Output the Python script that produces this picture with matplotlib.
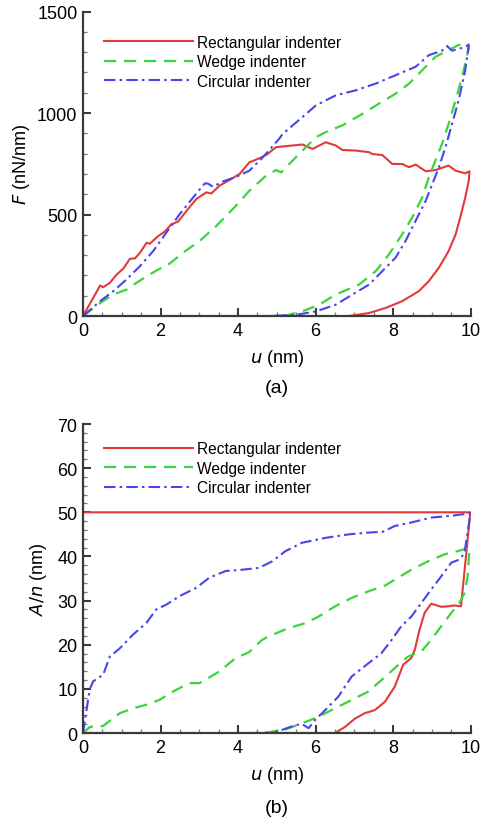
import matplotlib
matplotlib.use("Agg")
import matplotlib.pyplot as plt
from matplotlib.ticker import MultipleLocator

plt.rcParams['font.family'] = ['Liberation Sans', 'DejaVu Sans']

# ---------------- (a) force-displacement ----------------
rect_F_u = [0, 0.44, 0.52, 0.69, 0.87, 1.04, 1.21, 1.34, 1.47, 1.64, 1.72, 1.94, 2.11, 2.28,
            2.45, 2.67, 2.92, 3.18, 3.31, 3.52, 3.78, 4.04, 4.29, 4.55, 4.76, 4.98, 5.15, 5.66,
            5.92, 6.26, 6.52, 6.69, 7.04, 7.38, 7.46, 7.72, 7.98, 8.23, 8.41, 8.58, 8.84, 9.09,
            9.43, 9.61, 9.86, 9.97,
            9.95, 9.86, 9.73, 9.61, 9.43, 9.18, 8.92, 8.66, 8.23, 7.81, 7.38, 6.86]
rect_F = [0, 150, 142, 163, 205, 234, 282, 284, 312, 361, 356, 394, 416, 452,
          465, 518, 576, 609, 604, 642, 670, 700, 757, 777, 798, 832, 835, 845,
          823, 856, 840, 818, 815, 807, 798, 793, 749, 749, 733, 746, 713, 719,
          741, 716, 703, 713,
          667, 584, 485, 402, 320, 238, 172, 122, 73, 40, 15, 0]

wedge_F_u = [0, 0.44, 0.78, 1.12, 1.47, 1.89, 2.24, 2.58, 3.01, 3.44, 3.86, 4.29, 4.72, 4.98,
             5.11, 5.32, 5.66, 6.01, 6.26, 6.69, 7.21, 7.63, 8.06, 8.41, 8.75, 9.09, 9.43,
             9.69, 9.93,
             9.95, 9.78, 9.61, 9.43, 9.26, 9.09, 8.92, 8.75, 8.49, 8.23, 7.89, 7.55, 7.12,
             6.52, 6.09, 5.66, 5.24, 4.85]
wedge_F = [0, 64, 106, 130, 175, 224, 259, 312, 370, 444, 526, 617, 691, 719,
           708, 749, 815, 881, 906, 939, 996, 1046, 1095, 1145, 1211, 1277, 1310,
           1335, 1343,
           1320, 1178, 1063, 947, 848, 766, 683, 584, 485, 402, 303, 221, 155,
           106, 56, 23, 3, 0]

circ_F_u = [0, 0.44, 0.78, 1.12, 1.47, 1.81, 2.15, 2.49, 2.84, 3.14, 3.22, 3.35, 3.61, 3.95,
            4.29, 4.64, 5.06, 5.15, 5.66, 6.01, 6.52, 7.04, 7.55, 8.06, 8.58, 8.92, 9.26,
            9.39, 9.52, 9.73, 9.95,
            9.86, 9.69, 9.52, 9.35, 9.18, 9.01, 8.84, 8.58, 8.32, 8.06, 7.72, 7.38, 6.95,
            6.52, 6.01, 5.49, 4.8]
circ_F = [0, 73, 122, 180, 246, 320, 411, 501, 584, 653, 653, 637, 663, 686,
          716, 782, 873, 897, 980, 1038, 1087, 1112, 1145, 1186, 1228, 1285, 1307,
          1330, 1307, 1318, 1335,
          1211, 1063, 947, 832, 733, 650, 568, 469, 370, 287, 221, 155, 106,
          56, 23, 6, 0]

# ---------------- (b) contact length ----------------
rect_A_u = [0, 9.99, 9.75, 9.58, 9.41, 9.24, 8.98, 8.81, 8.68, 8.56, 8.47, 8.26, 8.04, 7.79,
            7.53, 7.27, 7.02, 6.76, 6.5]
rect_A = [50, 50, 28.7, 28.9, 28.7, 28.6, 29.3, 27.2, 23.4, 18.9, 17.0, 15.5, 10.5, 7.1,
          5.2, 4.5, 3.3, 1.4, 0]

wedge_A_u = [0, 0.18, 0.52, 0.95, 1.29, 1.63, 1.97, 2.32, 2.74, 3.0, 3.51, 3.94, 4.28, 4.62,
             4.79, 5.31, 5.74, 6.08, 6.5, 6.93, 7.36, 7.79, 8.13, 8.47, 8.9, 9.33, 9.67, 9.97,
             9.92, 9.84, 9.71, 9.5, 9.24, 8.98, 8.73, 8.38, 8.04, 7.7, 7.36, 6.93, 6.5, 6.08,
             5.65, 5.22, 4.79, 4.4]
wedge_A = [0, 1.4, 1.6, 4.5, 5.6, 6.4, 7.5, 9.4, 11.3, 11.3, 13.9, 17.0, 18.3, 21.1,
           21.9, 23.8, 24.9, 26.4, 28.7, 30.6, 32.1, 33.4, 35.2, 37.0, 38.9, 40.5, 41.2, 42.0,
           35.5, 31.7, 29.5, 27.2, 24.2, 21.1, 18.5, 17.3, 14.7, 12.0, 9.4, 7.5, 5.6, 3.7,
           2.2, 0.8, 0.2, 0]

circ_A_u = [0, 0.17, 0.26, 0.52, 0.69, 0.95, 1.29, 1.63, 1.89, 2.15, 2.49, 2.92, 3.26, 3.68,
            4.11, 4.54, 4.88, 5.22, 5.65, 6.25, 6.85, 7.36, 7.74, 8.04, 8.47, 8.98, 9.58, 9.99,
            9.97, 9.84, 9.71, 9.5, 9.24, 8.98, 8.73, 8.47, 8.21, 7.96, 7.7, 7.36, 6.93, 6.59,
            6.25, 5.99, 5.82, 5.65, 5.48, 5.13, 4.85]
circ_A = [0, 9.8, 11.7, 13.2, 17.3, 19.2, 22.3, 24.9, 28.0, 29.1, 31.0, 32.9, 35.2, 36.7,
          37.0, 37.4, 38.9, 41.2, 43.1, 44.2, 45.0, 45.4, 45.6, 46.9, 47.7, 48.8, 49.3, 49.8,
          48.4, 40.8, 39.3, 38.6, 35.5, 32.5, 29.5, 26.4, 24.2, 21.1, 18.1, 15.8, 12.8, 8.3,
          5.2, 3.0, 1.1, 2.0, 1.8, 0.7, 0]

labels = ["Rectangular indenter", "Wedge indenter", "Circular indenter"]
RED, GREEN, BLUE = "#e23a3a", "#3bd43b", "#4646ec"
AXC = "#3a3a3a"

fig = plt.figure(figsize=(4.81, 8.28), dpi=100)
ax1 = fig.add_axes([0.1726, 0.6171, 0.8060, 0.3678])
ax2 = fig.add_axes([0.1726, 0.1135, 0.8060, 0.3732])

dash_w = (0, (5.5, 3.5))
dashdot_w = (0, (5.5, 2.0, 1.2, 2.0))


def style(ax, ymax, ymaj, ymin_step, legend_top):
    for s in ("top", "right"):
        ax.spines[s].set_visible(False)
    for s in ("left", "bottom"):
        ax.spines[s].set_color(AXC)
        ax.spines[s].set_linewidth(1.6)
    ax.set_xlim(0, 10)
    ax.set_ylim(0, ymax)
    ax.xaxis.set_major_locator(MultipleLocator(2))
    ax.xaxis.set_minor_locator(MultipleLocator(0.5))
    ax.yaxis.set_major_locator(MultipleLocator(ymaj))
    ax.yaxis.set_minor_locator(MultipleLocator(ymin_step))
    ax.tick_params(which="major", direction="in", length=6, width=1.5, color=AXC,
                   labelsize=13, pad=4)
    ax.tick_params(which="minor", direction="in", length=3, width=0.9, color="#777777")
    ax.set_xlabel(r"$\it{u}$ (nm)", fontsize=13, labelpad=6)
    ax.legend(loc="upper left", bbox_to_anchor=(0.03, legend_top), frameon=False,
              fontsize=11.2, handlelength=5.7, handletextpad=0.25, labelspacing=0.3,
              borderaxespad=0.2)


ax1.plot(rect_F_u, rect_F, color=RED, lw=1.5, label=labels[0])
ax1.plot(wedge_F_u, wedge_F, color=GREEN, lw=1.6, linestyle=dash_w, label=labels[1])
ax1.plot(circ_F_u, circ_F, color=BLUE, lw=1.5, linestyle=dashdot_w, label=labels[2])
style(ax1, 1500, 500, 100, 0.955)
ax1.set_ylabel(r"$\it{F}$ (nN/nm)", fontsize=13, labelpad=4)
ax1.text(0.5, -0.235, "(a)", transform=ax1.transAxes, ha="center", va="center", fontsize=14)

ax2.plot(rect_A_u, rect_A, color=RED, lw=1.5, label=labels[0])
ax2.plot(wedge_A_u, wedge_A, color=GREEN, lw=1.6, linestyle=dash_w, label=labels[1])
ax2.plot(circ_A_u, circ_A, color=BLUE, lw=1.5, linestyle=dashdot_w, label=labels[2])
style(ax2, 70, 10, 2, 0.975)
ax2.set_ylabel(r"$\it{A/n}$ (nm)", fontsize=13, labelpad=6)
ax2.text(0.5, -0.24, "(b)", transform=ax2.transAxes, ha="center", va="center", fontsize=14)

fig.savefig("out.png", dpi=100)
